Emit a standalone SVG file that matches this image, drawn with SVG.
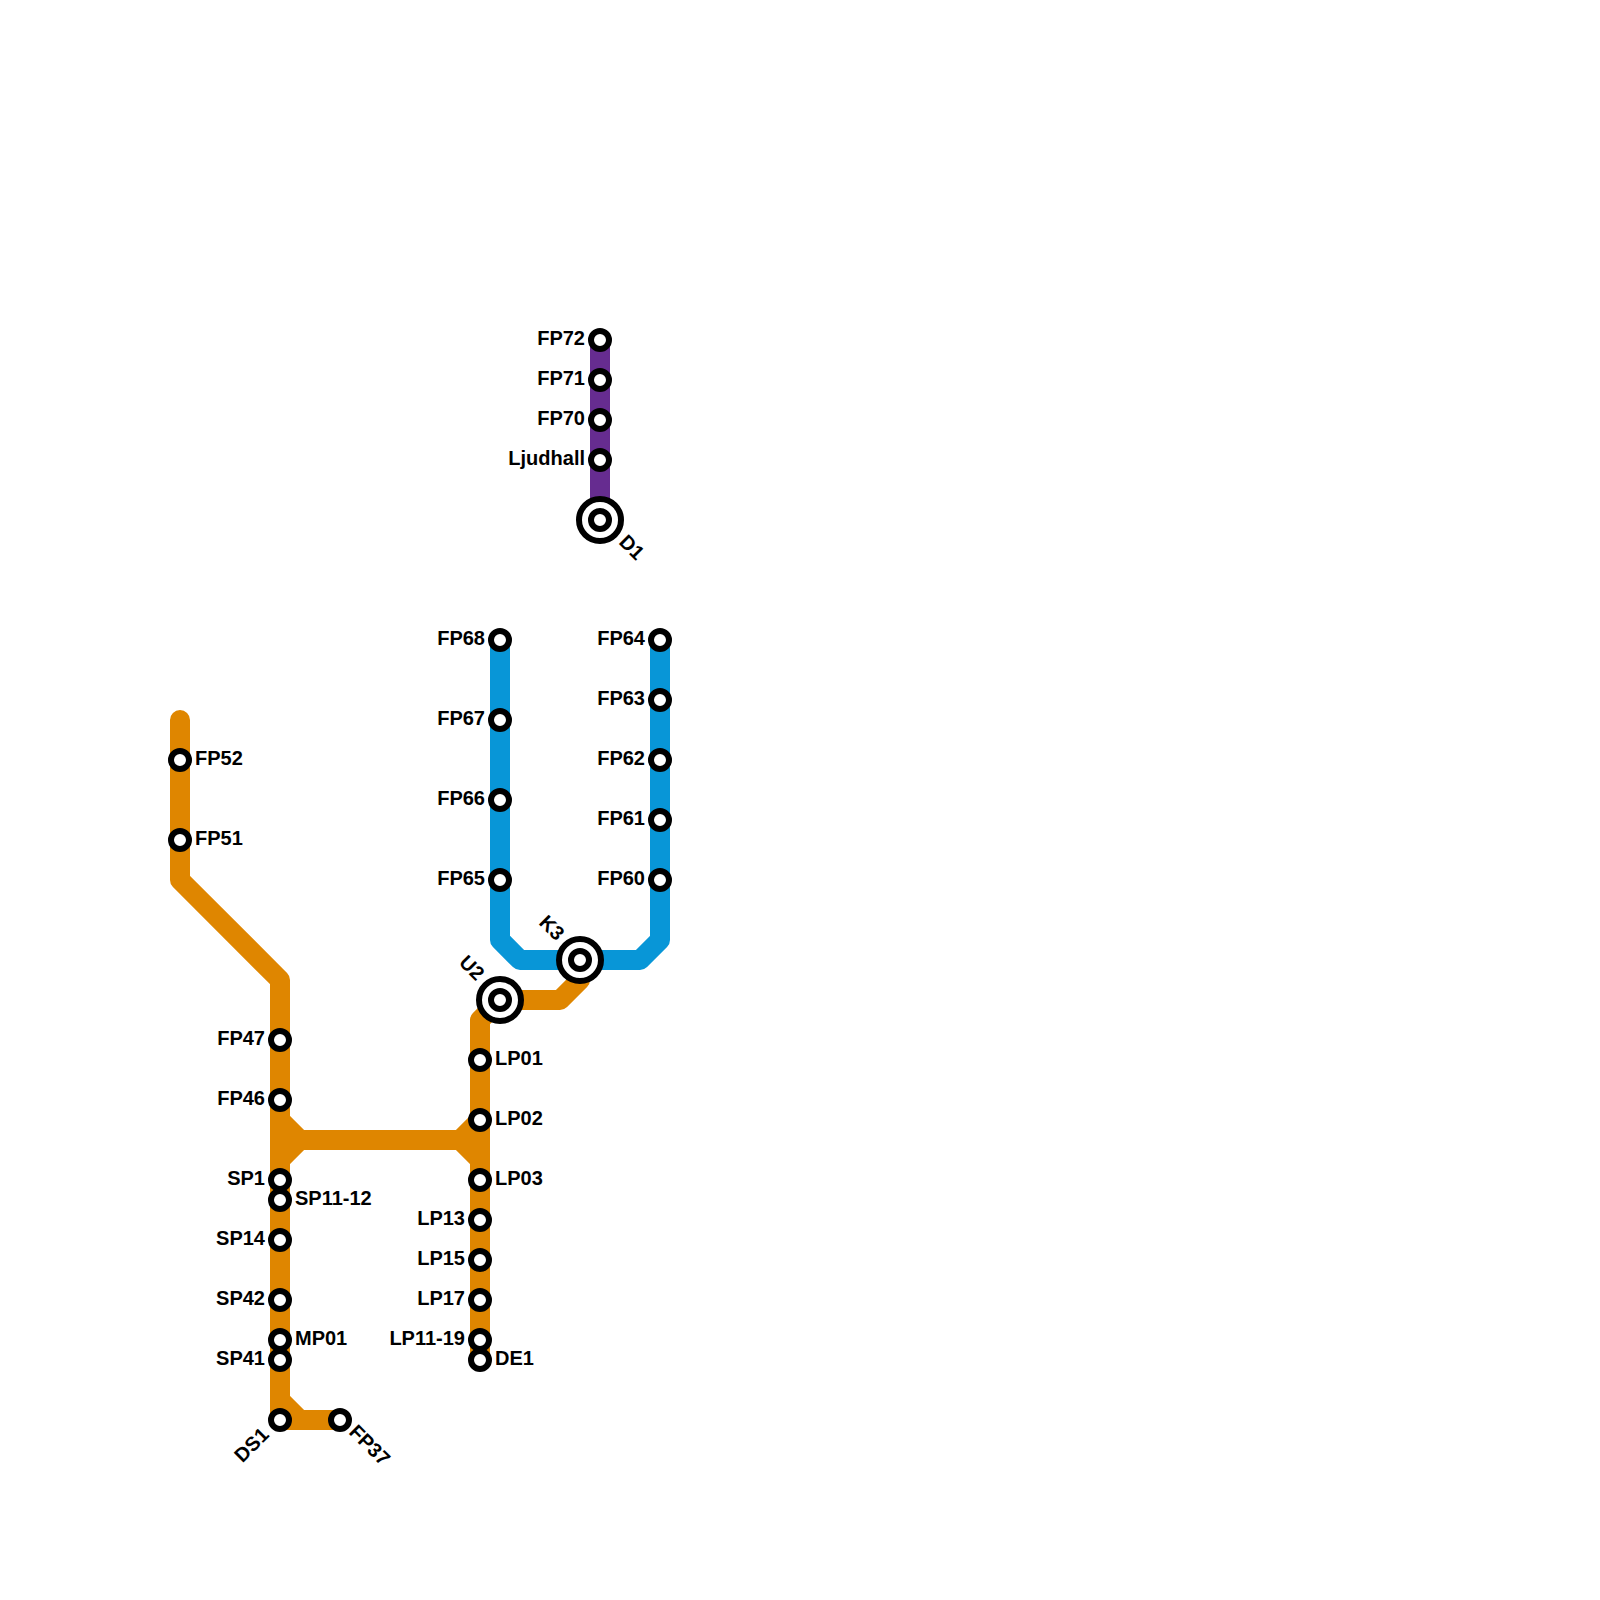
<svg xmlns="http://www.w3.org/2000/svg" width="1600" height="1600" viewBox="0 0 1600 1600">
<style>
.l{fill:none;stroke-width:20;stroke-linecap:round;stroke-linejoin:round}
.o{stroke:#df8600}.b{stroke:#0896d7}.p{stroke:#662c90}
.s{fill:#fff;stroke:#000;stroke-width:6}
text{font-family:"Liberation Sans",Arial,sans-serif;font-weight:700;font-size:20px;fill:#000}
.e{text-anchor:end}
</style>
<rect width="1600" height="1600" fill="#fff"/>
<g id="connectors">
<path class="l o" d="M180 720V880L280 980V1420H340M280 1400L300 1420M280 1120L300 1140H460L480 1120M280 1160L300 1140M460 1140L480 1160M480 1360V1020L500 1000H560L580 980"/>
<path class="l b" d="M500 640V940L520 960H640L660 940V640"/>
<path class="l p" d="M600 340V520"/>
</g>
<g id="FP72"><circle class="s" cx="600" cy="340" r="9"/><text class="e" x="585" y="344.5">FP72</text></g>
<g id="FP71"><circle class="s" cx="600" cy="380" r="9"/><text class="e" x="585" y="384.5">FP71</text></g>
<g id="FP70"><circle class="s" cx="600" cy="420" r="9"/><text class="e" x="585" y="424.5">FP70</text></g>
<g id="Ljudhall"><circle class="s" cx="600" cy="460" r="9"/><text class="e" x="585" y="464.5">Ljudhall</text></g>
<g id="D1"><circle class="s" cx="600" cy="520" r="21"/><circle class="s" cx="600" cy="520" r="9"/><text transform="rotate(45 618 543)" x="618" y="543">D1</text></g>
<g id="FP68"><circle class="s" cx="500" cy="640" r="9"/><text class="e" x="485" y="644.5">FP68</text></g>
<g id="FP67"><circle class="s" cx="500" cy="720" r="9"/><text class="e" x="485" y="724.5">FP67</text></g>
<g id="FP66"><circle class="s" cx="500" cy="800" r="9"/><text class="e" x="485" y="804.5">FP66</text></g>
<g id="FP65"><circle class="s" cx="500" cy="880" r="9"/><text class="e" x="485" y="884.5">FP65</text></g>
<g id="FP64"><circle class="s" cx="660" cy="640" r="9"/><text class="e" x="645" y="644.5">FP64</text></g>
<g id="FP63"><circle class="s" cx="660" cy="700" r="9"/><text class="e" x="645" y="704.5">FP63</text></g>
<g id="FP62"><circle class="s" cx="660" cy="760" r="9"/><text class="e" x="645" y="764.5">FP62</text></g>
<g id="FP61"><circle class="s" cx="660" cy="820" r="9"/><text class="e" x="645" y="824.5">FP61</text></g>
<g id="FP60"><circle class="s" cx="660" cy="880" r="9"/><text class="e" x="645" y="884.5">FP60</text></g>
<g id="K3"><circle class="s" cx="580" cy="960" r="21"/><circle class="s" cx="580" cy="960" r="9"/><text class="e" transform="rotate(45 556 941.5)" x="556" y="941.5">K3</text></g>
<g id="U2"><circle class="s" cx="500" cy="1000" r="21"/><circle class="s" cx="500" cy="1000" r="9"/><text class="e" transform="rotate(45 476 981.5)" x="476" y="981.5">U2</text></g>
<g id="LP01"><circle class="s" cx="480" cy="1060" r="9"/><text x="495" y="1064.5">LP01</text></g>
<g id="LP02"><circle class="s" cx="480" cy="1120" r="9"/><text x="495" y="1124.5">LP02</text></g>
<g id="LP03"><circle class="s" cx="480" cy="1180" r="9"/><text x="495" y="1184.5">LP03</text></g>
<g id="LP13"><circle class="s" cx="480" cy="1220" r="9"/><text class="e" x="465" y="1224.5">LP13</text></g>
<g id="LP15"><circle class="s" cx="480" cy="1260" r="9"/><text class="e" x="465" y="1264.5">LP15</text></g>
<g id="LP17"><circle class="s" cx="480" cy="1300" r="9"/><text class="e" x="465" y="1304.5">LP17</text></g>
<g id="LP11-19"><circle class="s" cx="480" cy="1340" r="9"/><text class="e" x="465" y="1344.5">LP11-19</text></g>
<g id="DE1"><circle class="s" cx="480" cy="1360" r="9"/><text x="495" y="1364.5">DE1</text></g>
<g id="FP52"><circle class="s" cx="180" cy="760" r="9"/><text x="195" y="764.5">FP52</text></g>
<g id="FP51"><circle class="s" cx="180" cy="840" r="9"/><text x="195" y="844.5">FP51</text></g>
<g id="FP47"><circle class="s" cx="280" cy="1040" r="9"/><text class="e" x="265" y="1044.5">FP47</text></g>
<g id="FP46"><circle class="s" cx="280" cy="1100" r="9"/><text class="e" x="265" y="1104.5">FP46</text></g>
<g id="SP1"><circle class="s" cx="280" cy="1180" r="9"/><text class="e" x="265" y="1184.5">SP1</text></g>
<g id="SP11-12"><circle class="s" cx="280" cy="1200" r="9"/><text x="295" y="1204.5">SP11-12</text></g>
<g id="SP14"><circle class="s" cx="280" cy="1240" r="9"/><text class="e" x="265" y="1244.5">SP14</text></g>
<g id="SP42"><circle class="s" cx="280" cy="1300" r="9"/><text class="e" x="265" y="1304.5">SP42</text></g>
<g id="MP01"><circle class="s" cx="280" cy="1340" r="9"/><text x="295" y="1344.5">MP01</text></g>
<g id="SP41"><circle class="s" cx="280" cy="1360" r="9"/><text class="e" x="265" y="1364.5">SP41</text></g>
<g id="DS1"><circle class="s" cx="280" cy="1420" r="9"/><text class="e" transform="rotate(-45 270 1436)" x="270" y="1436">DS1</text></g>
<g id="FP37"><circle class="s" cx="340" cy="1420" r="9"/><text transform="rotate(45 348 1433)" x="348" y="1433">FP37</text></g>
</svg>
